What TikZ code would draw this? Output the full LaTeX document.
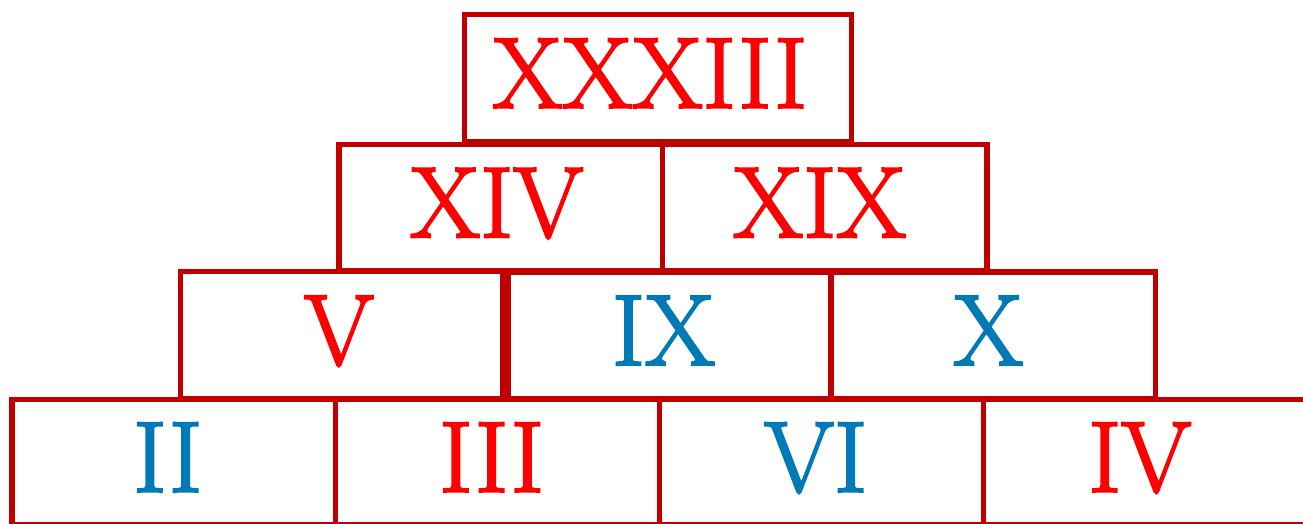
\documentclass[tikz,border=0pt]{standalone}
\usepackage{fontspec}
\newfontfamily\brickfont{Latin Modern Roman}[FakeBold=2.2]
\definecolor{edge}{RGB}{192,0,0}
\definecolor{rd}{RGB}{255,0,0}
\definecolor{bl}{RGB}{0,122,182}
\begin{document}
\begin{tikzpicture}[x=1pt,y=-1pt,
  brick/.style={draw=edge, line width=5.5pt, inner sep=0pt,
    minimum height=127pt, minimum width=324pt,
    text height=69.5pt, text depth=10.5pt,
    font=\brickfont\fontsize{101pt}{101pt}\selectfont},
  redt/.style={text=rd},
  bluet/.style={text=bl}]
\clip (0,0) rectangle (1303,523);
\fill[white] (0,0) rectangle (1303,523);
% row 4
\node[brick, bluet, minimum width=323.5pt, minimum height=125.5pt] (ii)  at (173.75,462.25) {II\kern12pt};
\node[brick, redt,  minimum width=324.2pt, minimum height=125.5pt] (iii) at (497.6,462.25) {III\kern12pt};
\node[brick, bluet, minimum width=323.8pt, minimum height=125.5pt] (vi)  at (821.6,462.25) {VI\kern12pt};
\node[brick, redt,  minimum width=324.5pt, minimum height=125.5pt] (iv)  at (1145.75,462.25) {IV\kern12pt};
% row 3
\node[brick, redt,  minimum width=322.3pt, minimum height=127.3pt] (v)   at (341.85,335.35) {V\kern6pt};
\node[brick, bluet, minimum width=323pt,   minimum height=127.3pt] (ix)  at (669.5,335.5) {IX\kern12pt};
\node[brick, bluet, minimum width=324.7pt, minimum height=127.3pt] (x)   at (993.35,335.5) {X\kern10pt};
% row 2
\node[brick, redt, minimum width=323.5pt, minimum height=126.5pt] (xiv) at (500.75,207.75) {XIV\kern8pt};
\node[brick, redt, minimum width=324.5pt, minimum height=126.5pt] (xix) at (824.75,207.75) {XIX\kern10pt};
% top
\node[brick, redt, minimum width=387pt, minimum height=127.5pt] (top) at (658,78.25) {XXXIII\kern16pt};
\end{tikzpicture}
\end{document}
